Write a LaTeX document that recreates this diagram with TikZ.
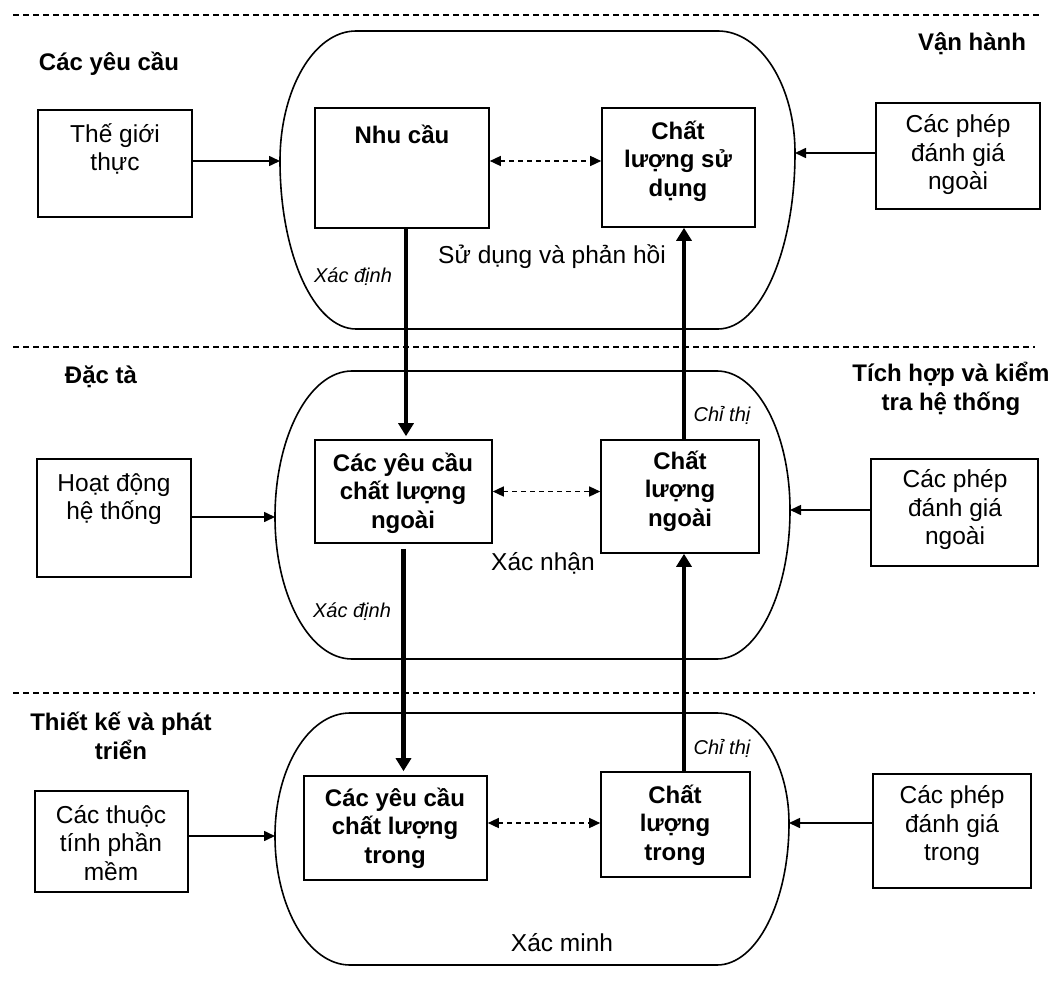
\documentclass[tikz,border=0pt]{standalone}
\usepackage{fontspec}
\setmainfont{Liberation Sans}
\usetikzlibrary{arrows.meta,calc}
\newcommand\fsN{\fontsize{24.5}{28.5}\selectfont}
\newcommand\fsB{\fontsize{24}{28.5}\selectfont\bfseries}
\newcommand\fsI{\fontsize{20}{23}\selectfont\itshape}
% name, xl, xr, top, bot, leftmost x, leftmost y, rightmost x, rightmost y
\newcommand\stadium[9]{%
 \pgfmathsetmacro\sKl{0.5523*(#2-#6)}%
 \pgfmathsetmacro\sKr{0.5523*(#8-#3)}%
 \pgfmathsetmacro\sKlu{0.5523*(#7-#4)}%
 \pgfmathsetmacro\sKld{0.5523*(#5-#7)}%
 \pgfmathsetmacro\sKru{0.5523*(#9-#4)}%
 \pgfmathsetmacro\sKrd{0.5523*(#5-#9)}%
 \draw[region] (#2,#4) -- (#3,#4)
   .. controls ({#3+\sKr},#4) and (#8,{#9-\sKru}) .. (#8,#9)
   .. controls (#8,{#9+\sKrd}) and ({#3+\sKr},#5) .. (#3,#5)
   -- (#2,#5)
   .. controls ({#2-\sKl},#5) and (#6,{#7+\sKld}) .. (#6,#7)
   .. controls (#6,{#7-\sKlu}) and ({#2-\sKl},#4) .. cycle;
 \coordinate (#1L) at (#6,#7);
 \coordinate (#1R) at (#8,#9);
}
\begin{document}
\begin{tikzpicture}[x=1pt,y=-1pt,
  region/.style={line width=1.6pt},
  sep/.style={line width=1.5pt, dash pattern=on 6pt off 4pt},
  box/.style={draw, line width=1.6pt, inner sep=0pt},
  txt/.style={align=center, inner sep=0pt, font=\fsN},
  btxt/.style={align=center, inner sep=0pt, font=\fsB},
  itxt/.style={inner sep=0pt, font=\fsI},
  conn/.style={line width=1.6pt, -{Triangle[length=11pt,width=10pt]}},
  dconn/.style={line width=1.4pt, dash pattern=on 5pt off 4pt,
     {Triangle[length=11pt,width=10pt]}-{Triangle[length=11pt,width=10pt]}},
  thickarr/.style={line width=4.5pt, -{Triangle[length=13pt,width=15pt]}}
]
\useasboundingbox (0,0) rectangle (1057,995);

% separators
\draw[sep] (13,15) -- (1040,15);
\draw[sep] (13,347) -- (1035,347);
\draw[sep] (13,693) -- (1035,693);

% regions
\stadium{rA}{356}{718}{31}{329}{280}{161}{795}{153}
\stadium{rB}{352}{717}{371}{659}{275}{517}{790}{510}
\stadium{rC}{350}{717}{713}{965}{275}{836}{789}{823}

% section labels
\node[btxt] (sA) at (109,64) {Các yêu cầu};
\node[btxt] (sB) at (972,44) {Vận hành};
\node[btxt] (sC) at (101,377) {Đặc tà};
\node[btxt] (sD) at (951,389) {Tích hợp và kiểm\\tra hệ thống};
\node[btxt] (sE) at (121,736) {Thiết kế và phát\\triển};

% boxes
\node[box, minimum width=154pt, minimum height=107pt] (bA) at (115,163.5) {};
\node[box, minimum width=174pt, minimum height=120pt] (bB) at (402,168) {};
\node[box, minimum width=153pt, minimum height=119pt] (bC) at (678.5,167.5) {};
\node[box, minimum width=164pt, minimum height=106pt] (bD) at (958,156) {};
\node[box, minimum width=154pt, minimum height=118pt] (bG) at (114,518) {};
\node[box, minimum width=177pt, minimum height=103pt] (bE) at (403.5,491.5) {};
\node[box, minimum width=158pt, minimum height=113pt] (bF) at (680,496.5) {};
\node[box, minimum width=167pt, minimum height=107pt] (bH) at (954.5,512.5) {};
\node[box, minimum width=153pt, minimum height=101pt] (bK) at (111.5,841.5) {};
\node[box, minimum width=183pt, minimum height=104pt] (bI) at (395.5,828) {};
\node[box, minimum width=149pt, minimum height=105pt] (bJ) at (675.5,824.5) {};
\node[box, minimum width=158pt, minimum height=114pt] (bL) at (952,831) {};

% box texts
\node[txt] (tA) at (115,149) {Thế giới\\thực};
\node[btxt] (tB) at (402,134) {Nhu cầu};
\node[btxt] (tC) at (678,161) {Chất\\lượng sử\\dụng};
\node[txt] (tD) at (958,155) {Các phép\\đánh giá\\ngoài};
\node[txt] (tG) at (114,499) {Hoạt động\\hệ thống};
\node[btxt] (tE) at (403,493) {Các yêu cầu\\chất lượng\\ngoài};
\node[btxt] (tF) at (680,491) {Chất\\lượng\\ngoài};
\node[txt] (tH) at (955,510) {Các phép\\đánh giá\\ngoài};
\node[txt] (tK) at (111,843) {Các thuộc\\tính phần\\mềm};
\node[btxt] (tI) at (395,828) {Các yêu cầu\\chất lượng\\trong};
\node[btxt] (tJ) at (675,825) {Chất\\lượng\\trong};
\node[txt] (tL) at (952,826) {Các phép\\đánh giá\\trong};

% labels
\node[itxt] (lXd1) at (353,277) {Xác định};
\node[txt] (lSd) at (552,257) {Sử dụng và phản hồi};
\node[itxt] (lXd2) at (352,612) {Xác định};
\node[txt] (lXn) at (543,563) {Xác nhận};
\node[itxt] (lCt1) at (722,415) {Chỉ thị};
\node[itxt] (lCt2) at (722,748) {Chỉ thị};
\node[txt] (lXm) at (562,943) {Xác minh};

% side arrows
\draw[conn] (bA.east |- rAL) -- (rAL);
\draw[conn] (bD.west |- rAR) -- (rAR);
\draw[conn] (bG.east |- rBL) -- (rBL);
\draw[conn] (bH.west |- rBR) -- (rBR);
\draw[conn] (bK.east |- rCL) -- (rCL);
\draw[conn] (bL.west |- rCR) -- (rCR);

% dashed double arrows
\draw[dconn] ([yshift=7pt]bB.east) -- ([yshift=7pt]bB.east -| bC.west);
\draw[dconn] (bE.east) -- (bE.east -| bF.west);
\draw[dconn] ([yshift=5pt]bI.east) -- ([yshift=5pt]bI.east -| bJ.west);

% thick vertical arrows
\draw[thickarr, shorten >=3pt] ([xshift=4pt]bB.south) -- ([xshift=4pt]bB.south |- bE.north);
\draw[thickarr, shorten <=5pt, shorten >=4pt] (bE.south) -- (bE.south |- bI.north);
\draw[thickarr] ([xshift=4pt]bF.north) -- ([xshift=4pt]bF.north |- bC.south);
\draw[thickarr] ([xshift=8.5pt]bJ.north) -- ([xshift=8.5pt]bJ.north |- bF.south);
\end{tikzpicture}
\end{document}
